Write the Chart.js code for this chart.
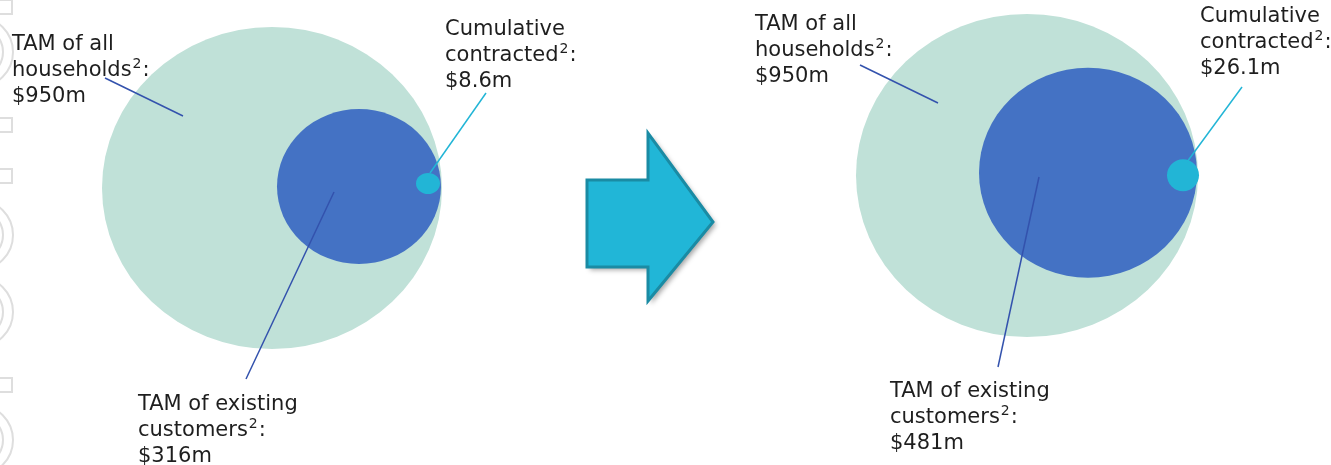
<!DOCTYPE html>
<html>
<head>
<meta charset="utf-8">
<script src="https://cdn.jsdelivr.net/npm/chart.js@4.4.0/dist/chart.umd.min.js"></script>
<style>
  html, body { margin: 0; padding: 0; background: #fff; }
  #wrap { width: 1331px; height: 465px; }
</style>
</head>
<body>
<div id="wrap"><canvas id="tamChart" width="1331" height="465"></canvas></div>
<script>
// values ($m) for the two panels
const panels = ['Today', 'Target'];
const householdTam = [950, 950];
const customerTam = [316, 481];
const contractedValue = [8.6, 26.1];

// layout in axis units (x 0..1331, y 0..465 top-down)
const householdCircle = [{x: 272, y: 188, rx: 170, ry: 161}, {x: 1027, y: 175.5, rx: 171, ry: 161.5}];
const customerCircle = [{x: 359, y: 186.5, rx: 82, ry: 77.5}, {x: 1088, y: 172.7, rx: 109, ry: 105}];
const contractedCircle = [{x: 428, y: 183.5, rx: 12, ry: 10.5}, {x: 1183, y: 175.3, rx: 16, ry: 16}];

const householdLeader = [[{x: 105, y: 78}, {x: 183, y: 116}], [{x: 860, y: 65}, {x: 938, y: 103}]];
const customerLeader = [[{x: 334, y: 192}, {x: 246, y: 379}], [{x: 1039, y: 177}, {x: 998, y: 367}]];
const contractedLeader = [[{x: 430, y: 173}, {x: 486, y: 93}], [{x: 1187, y: 162}, {x: 1242, y: 87}]];

const householdLabelAt = [{x: 12, y: 50}, {x: 755, y: 30}];
const customerLabelAt = [{x: 138, y: 410}, {x: 890, y: 397}];
const contractedLabelAt = [{x: 445, y: 35}, {x: 1200, y: 22}];

const arrowShape = [
  {x: 587, y: 180}, {x: 648, y: 180}, {x: 648, y: 133}, {x: 713, y: 222},
  {x: 648, y: 301}, {x: 648, y: 267}, {x: 587, y: 267}
];

const MINT = '#c0e1d8';
const BLUE = '#4472c4';
const CYAN = '#22b5d6';
const LINE_BLUE = '#3352ad';

function ellipseSet(pts, color) {
  return { data: pts, ellipse: true, fillColor: color, pointRadius: 0, showLine: false };
}
function leaderSet(pts, color) {
  return { data: pts, showLine: true, borderColor: color, borderWidth: 1.5, pointRadius: 0, fill: false };
}

const datasets = [
  ellipseSet(householdCircle, MINT),
  ellipseSet(customerCircle, BLUE),
  ellipseSet(contractedCircle, CYAN)
];
panels.forEach((p, i) => {
  datasets.push(leaderSet(householdLeader[i], LINE_BLUE));
  datasets.push(leaderSet(customerLeader[i], LINE_BLUE));
  datasets.push(leaderSet(contractedLeader[i], CYAN));
});

const shapesPlugin = {
  id: 'shapes',
  beforeDatasetsDraw(chart) {
    const ctx = chart.ctx;
    const xs = chart.scales.x, ys = chart.scales.y;

    // faint watermark on the left edge
    ctx.save();
    ctx.strokeStyle = '#dedede';
    ctx.lineWidth = 2;
    [0, 118, 169, 378].forEach(t => ctx.strokeRect(-6, t, 18, 14));
    [52, 235, 312, 440].forEach(c => {
      ctx.beginPath(); ctx.arc(-22, c, 35, 0, Math.PI * 2); ctx.stroke();
      ctx.beginPath(); ctx.arc(-22, c, 25, 0, Math.PI * 2); ctx.stroke();
    });
    ctx.restore();

    chart.data.datasets.forEach((ds, di) => {
      if (!ds.ellipse) return;
      const meta = chart.getDatasetMeta(di);
      meta.data.forEach((el, i) => {
        const raw = ds.data[i];
        const rx = Math.abs(xs.getPixelForValue(raw.x + raw.rx) - el.x);
        const ry = Math.abs(ys.getPixelForValue(raw.y + raw.ry) - el.y);
        ctx.save();
        ctx.fillStyle = ds.fillColor;
        ctx.beginPath();
        ctx.ellipse(el.x, el.y, rx, ry, 0, 0, Math.PI * 2);
        ctx.fill();
        ctx.restore();
      });
    });

    // arrow between panels
    ctx.save();
    ctx.beginPath();
    arrowShape.forEach((p, i) => {
      const px = xs.getPixelForValue(p.x), py = ys.getPixelForValue(p.y);
      if (i === 0) ctx.moveTo(px, py); else ctx.lineTo(px, py);
    });
    ctx.closePath();
    ctx.shadowColor = 'rgba(0,0,0,0.35)';
    ctx.shadowBlur = 5;
    ctx.shadowOffsetX = 3;
    ctx.shadowOffsetY = 3;
    ctx.fillStyle = '#21b6d7';
    ctx.fill();
    ctx.shadowColor = 'transparent';
    ctx.lineWidth = 3;
    ctx.strokeStyle = '#1a8ba4';
    ctx.lineJoin = 'miter';
    ctx.stroke();
    ctx.restore();
  },
  afterDatasetsDraw(chart) {
    const ctx = chart.ctx;
    const xs = chart.scales.x, ys = chart.scales.y;
    const font = '21px "DejaVu Sans"';
    const supFont = '14px "DejaVu Sans"';
    const lh = 26;

    function label(pos, l1, l2, value) {
      const x = xs.getPixelForValue(pos.x);
      const y = ys.getPixelForValue(pos.y);
      ctx.save();
      ctx.fillStyle = '#1e1e1e';
      ctx.textBaseline = 'alphabetic';
      ctx.font = font;
      ctx.fillText(l1, x, y);
      ctx.fillText(l2, x, y + lh);
      const w = ctx.measureText(l2).width;
      ctx.font = supFont;
      ctx.fillText('2', x + w + 1, y + lh - 8);
      const sw = ctx.measureText('2').width;
      ctx.font = font;
      ctx.fillText(':', x + w + sw + 2, y + lh);
      ctx.fillText(value, x, y + lh * 2);
      ctx.restore();
    }

    panels.forEach((p, i) => {
      label(householdLabelAt[i], 'TAM of all', 'households', '$' + householdTam[i] + 'm');
      label(customerLabelAt[i], 'TAM of existing', 'customers', '$' + customerTam[i] + 'm');
      label(contractedLabelAt[i], 'Cumulative', 'contracted', '$' + contractedValue[i] + 'm');
    });
  }
};

new Chart(document.getElementById('tamChart'), {
  type: 'scatter',
  data: { datasets: datasets },
  options: {
    responsive: false,
    devicePixelRatio: 1,
    animation: false,
    layout: { padding: 0 },
    plugins: { legend: { display: false }, tooltip: { enabled: false } },
    scales: {
      x: { type: 'linear', min: 0, max: 1331, display: false },
      y: { type: 'linear', min: 0, max: 465, reverse: true, display: false }
    }
  },
  plugins: [shapesPlugin]
});
</script>
</body>
</html>
